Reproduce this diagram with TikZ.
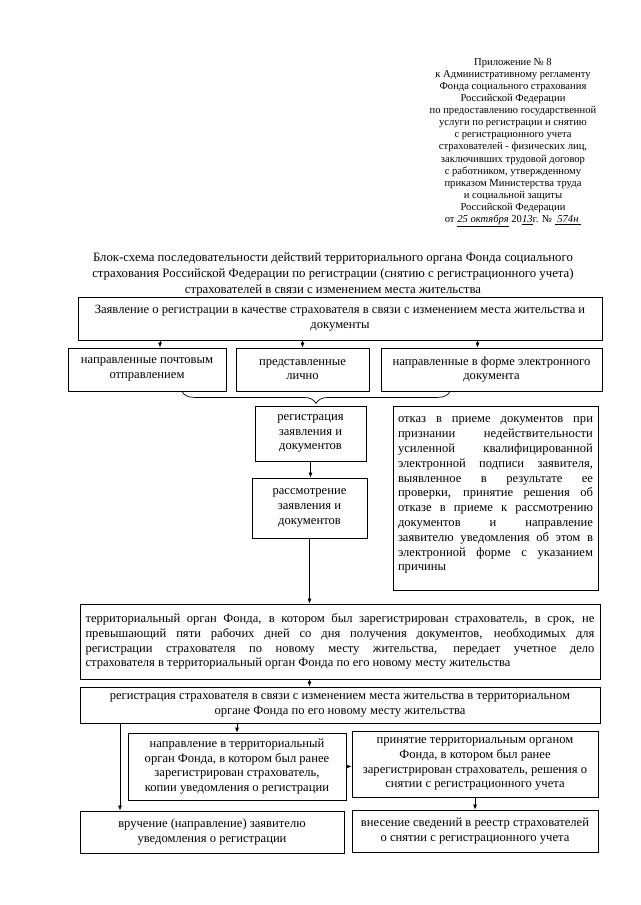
\documentclass[tikz,border=0pt]{standalone}
\usepackage{fontspec}
\setmainfont{Liberation Serif}
\usetikzlibrary{arrows.meta,decorations.pathreplacing}

\newcommand{\bodysize}{\fontsize{12.6}{14.8}\selectfont}
\newcommand{\headsize}{\fontsize{10.6}{12.1}\selectfont}
\newcommand{\titlesize}{\fontsize{12.8}{16}\selectfont}
\newcommand{\jline}[2]{\makebox[#1][s]{#2}}

\begin{document}
\begin{tikzpicture}[
    x=1pt, y=-1pt,
    box/.style={rectangle, draw, line width=0.8pt, align=center, font=\bodysize, inner sep=2pt},
    arr/.style={-{Latex[length=5pt, width=4pt]}, line width=0.7pt},
    dasharr/.style={arr, dash pattern=on 2pt off 2pt},
    brc/.style={decorate, decoration={brace, mirror, amplitude=12pt}, line width=0.7pt}
]
\useasboundingbox (0,0) rectangle (640,905);

% Header and title
\node[align=center, font=\headsize, inner sep=0pt, anchor=north] (head) at (513,58) {%
Приложение № 8\\
к Административному регламенту\\
Фонда социального страхования\\
Российской Федерации\\
по предоставлению государственной\\
услуги по регистрации и снятию\\
с регистрационного учета\\
страхователей - физических лиц,\\
заключивших трудовой договор\\
с работником, утвержденному\\
приказом Министерства труда\\
и социальной защиты\\
Российской Федерации\\
от \underline{\textit{25 октября}} 20\underline{\textit{13}}г. № \underline{\textit{\ 574н\ }}};
\node[align=center, font=\titlesize, inner sep=0pt, anchor=north] (title) at (333,253) {%
Блок-схема последовательности действий территориального органа Фонда социального\\
страхования Российской Федерации по регистрации (снятию с регистрационного учета)\\
страхователей в связи с изменением места жительства};

% Application and ways of submission
\node[box, minimum width=524pt, minimum height=43pt] (zayav) at (340,318.5) {Заявление о регистрации в качестве страхователя в связи с изменением места жительства и\\документы};
\node[box, minimum width=158pt, minimum height=43pt] (pochta) at (147,369.5) {направленные почтовым\\отправлением};
\node[box, minimum width=133pt, minimum height=43pt] (lichno) at (302.5,369.5) {представленные\\лично};
\node[box, minimum width=221pt, minimum height=43pt] (elektr) at (491.5,369.5) {направленные в форме электронного\\документа};

% Registration and review
\node[box, minimum width=111pt, minimum height=55pt] (reg) at (310.5,433.5) {регистрация\\заявления и\\документов};
\node[box, minimum width=115pt, minimum height=60pt] (rassm) at (309.5,508) {рассмотрение\\заявления и\\документов};
\node[box, minimum width=205pt, minimum height=184pt, inner sep=0pt] (otkaz) at (495.5,498) {%
\parbox[t][176pt][t]{195pt}{\bodysize\vspace*{7pt}
\jline{195pt}{отказ в приеме документов при}\\
\jline{195pt}{признании недействительности}\\
\jline{195pt}{усиленной квалифицированной}\\
\jline{195pt}{электронной подписи заявителя,}\\
\jline{195pt}{выявленное в результате ее}\\
\jline{195pt}{проверки, принятие решения об}\\
\jline{195pt}{отказе в приеме к рассмотрению}\\
\jline{195pt}{документов и направление}\\
\jline{195pt}{заявителю уведомления об этом в}\\
\jline{195pt}{электронной форме с указанием}\\
причины}};

% Transfer of the file and new registration
\node[box, minimum width=520pt, minimum height=75pt, align=left] (terr) at (340,641.5) {%
\jline{509pt}{территориальный орган Фонда, в котором был зарегистрирован страхователь, в срок, не}\\
\jline{509pt}{превышающий пяти рабочих дней со дня получения документов, необходимых для}\\
\jline{509pt}{регистрации страхователя по новому месту жительства, передает учетное дело}\\
страхователя в территориальный орган Фонда по его новому месту жительства};
\node[box, minimum width=520pt, minimum height=36pt] (reg2) at (340,705) {регистрация страхователя в связи с изменением места жительства в территориальном\\органе Фонда по его новому месту жительства};

% Final steps
\node[box, minimum width=218pt, minimum height=67pt] (napr) at (237,766.5) {направление в территориальный\\орган Фонда, в котором был ранее\\зарегистрирован страхователь,\\копии уведомления о регистрации};
\node[box, minimum width=246pt, minimum height=66pt] (prin) at (475,764) {принятие территориальным органом\\Фонда, в котором был ранее\\зарегистрирован страхователь, решения о\\снятии с регистрационного учета};
\node[box, minimum width=264pt, minimum height=42pt] (vruch) at (212,832) {вручение (направление) заявителю\\уведомления о регистрации};
\node[box, minimum width=246pt, minimum height=42pt] (vnes) at (475,831) {внесение сведений в реестр страхователей\\о снятии с регистрационного учета};

% Connectors
\draw[arr] ([xshift=13pt]pochta.north |- zayav.south) -- ([xshift=13pt]pochta.north);
\draw[arr] (lichno.north |- zayav.south) -- (lichno.north);
\draw[arr] ([xshift=-14pt]elektr.north |- zayav.south) -- ([xshift=-14pt]elektr.north);
\draw[brc] ([xshift=35pt]pochta.south) -- ([xshift=-41.5pt]elektr.south);
\draw[arr] (reg.south) -- (reg.south |- rassm.north);
\draw[arr] (rassm.south) -- (rassm.south |- terr.north);
\draw[arr] (rassm.south |- terr.south) -- (rassm.south |- reg2.north);
\draw[arr] (napr.north |- reg2.south) -- (napr.north);
\draw[arr] ([xshift=-92pt]vruch.north |- reg2.south) -- ([xshift=-92pt]vruch.north);
\draw[dasharr] (napr.east) -- (prin.west |- napr.east);
\draw[arr] (prin.south) -- (vnes.north);
\end{tikzpicture}
\end{document}
